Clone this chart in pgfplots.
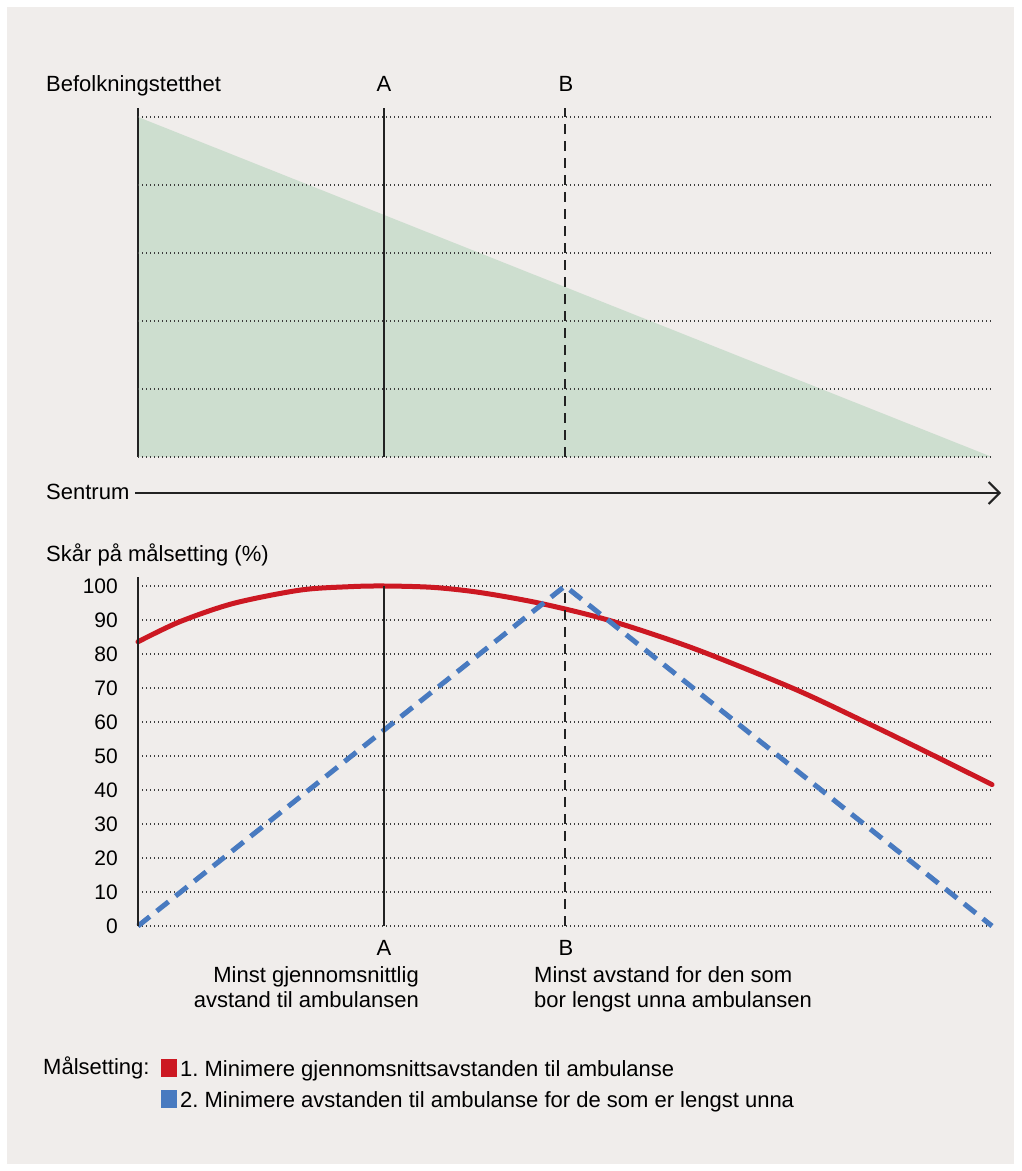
\documentclass[border=0pt]{standalone}
\usepackage{fontspec}
\setmainfont{Liberation Sans}
\usepackage{pgfplots}
\pgfplotsset{compat=1.18}
\usetikzlibrary{arrows.meta}
\frenchspacing

\definecolor{bg}{RGB}{240,237,235}
\definecolor{areagreen}{RGB}{205,222,207}
\definecolor{goalred}{RGB}{204,24,34}
\definecolor{goalblue}{RGB}{72,122,192}
\definecolor{ink}{RGB}{34,34,34}
\definecolor{dots}{RGB}{60,60,60}

\newcommand{\txt}{\fontsize{22}{26}\selectfont}

\pgfplotsset{
  panel/.style={
    scale only axis, width=854pt, height=340pt,
    xmin=0, xmax=100, clip=false,
    axis line style={draw=none},
    xtick=\empty,
    major tick length=0pt,
    ymajorgrids,
    major grid style={dots, line width=1.4pt, dash pattern=on 1.4pt off 2.6pt},
  }
}

\begin{document}
\begin{tikzpicture}[x=1pt,y=1pt]
\fill[white] (0,0) rectangle (1021,1171);
\fill[bg] (7,7) rectangle (1014,1164);

% population density
\begin{axis}[panel, axis on top, at={(138pt,714pt)}, anchor=south west,
  ymin=0, ymax=5, ytick={0,...,5}, yticklabels={}]
\addplot[fill=areagreen, draw=none] coordinates {(0,5) (100,0)} \closedcycle;
\addplot[ink, line width=2pt] coordinates {(0,0) (0,5.13)};
\addplot[ink, line width=2pt] coordinates {(28.8,0) (28.8,5.13)};
\addplot[ink, line width=2pt, dash pattern=on 10pt off 7pt] coordinates {(50,0) (50,5.13)};
\end{axis}

\node[anchor=base west, inner sep=0pt] at (46,1079) {\txt Befolkningstetthet};
\node[anchor=base, inner sep=0pt] at (384,1079) {\txt A};
\node[anchor=base, inner sep=0pt] at (566,1079) {\txt B};

\node[anchor=base west, inner sep=0pt] at (46,671) {\txt Sentrum};
\draw[ink, line width=2pt, -{Straight Barb[length=11pt, width=22pt]}] (135,678) -- (1001,678);

% scores
\begin{axis}[panel, at={(138pt,245pt)}, anchor=south west,
  ymin=0, ymax=100, ytick={0,10,...,100},
  /pgf/number format/assume math mode=true,
  yticklabel style={font=\fontsize{21}{21}\selectfont, anchor=east, inner sep=0pt, xshift=-20pt},
  legend style={at={(0.02693,-0.3912)}, anchor=north west, draw=none, fill=none,
    inner sep=0pt, row sep=12pt, column sep=3pt, font=\txt, nodes={inner sep=0pt}},
  legend cell align=left,
  legend image code/.code={\fill[#1, draw=none, solid] (0pt,-7.7pt) rectangle (16pt,10.3pt);}]
\addplot[goalred, line width=5pt, line cap=round, smooth] coordinates {
  (0,83.6) (4.9,89.5) (11.2,94.9) (19,98.8) (24.8,99.8) (28.8,100)
  (34.5,99.6) (40,98.1) (47.1,94.9) (55.3,89.8) (65,81.7) (76.7,69.9)
  (85.3,59.8) (92.4,51.1) (100,41.6)};
\addlegendentry{1. Minimere gjennomsnittsavstanden til ambulanse}
\addplot[goalblue, line width=5pt, dash pattern=on 15pt off 9pt] coordinates {
  (0,0) (50,100) (100,0)};
\addlegendentry{2. Minimere avstanden til ambulanse for de som er lengst unna}
\addplot[ink, line width=2pt, forget plot] coordinates {(0,0) (0,102.6)};
\addplot[ink, line width=2pt, forget plot] coordinates {(28.8,0) (28.8,100)};
\addplot[ink, line width=2pt, dash pattern=on 10pt off 7pt, forget plot] coordinates {(50,0) (50,100)};
\end{axis}

\node[anchor=base west, inner sep=0pt] at (46,609) {\txt Skår på målsetting (\%)};
\node[anchor=base, inner sep=0pt] at (384,215) {\txt A};
\node[anchor=base, inner sep=0pt] at (566,215) {\txt B};
\node[anchor=base east, inner sep=0pt] at (419,188) {\txt Minst gjennomsnittlig};
\node[anchor=base east, inner sep=0pt] at (419,163) {\txt avstand til ambulansen};
\node[anchor=base west, inner sep=0pt] at (534,188) {\txt Minst avstand for den som};
\node[anchor=base west, inner sep=0pt] at (534,163) {\txt bor lengst unna ambulansen};

\node[anchor=base west, inner sep=0pt] at (43,96) {\txt Målsetting:};
\end{tikzpicture}
\end{document}
